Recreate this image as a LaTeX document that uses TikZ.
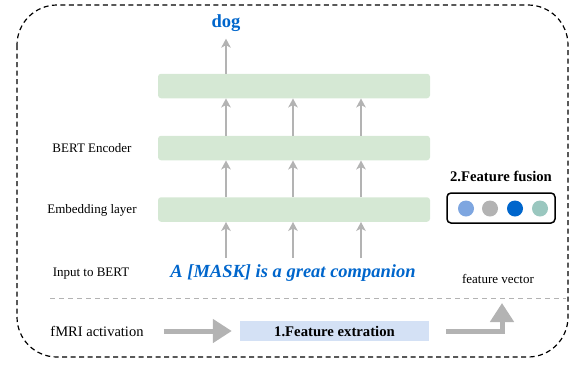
\documentclass[tikz,border=0pt]{standalone}
\usepackage{fontspec}
\setmainfont{Liberation Serif}
\usetikzlibrary{arrows.meta,positioning}
\definecolor{barGreen}{HTML}{D5E8D4}
\definecolor{boxBlue}{HTML}{D4E1F5}
\definecolor{textBlue}{HTML}{0066CC}
\definecolor{arrGray}{HTML}{B3B3B3}
\definecolor{dotA}{HTML}{7EA6E0}
\definecolor{dotB}{HTML}{B3B3B3}
\definecolor{dotC}{HTML}{0066CC}
\definecolor{dotD}{HTML}{9AC7BF}
\tikzset{>=Latex}
\tikzset{bar/.style={fill=barGreen, rounded corners=3pt, minimum width=272pt, minimum height=24.5pt, inner sep=0pt}}
\tikzset{lbl/.style={inner sep=0pt, font=\fontsize{13}{15}\selectfont}}
\tikzset{head/.style={inner sep=0pt, font=\fontsize{14.7}{17}\selectfont\bfseries}}
\tikzset{uparr/.style={draw=arrGray, line width=1.5pt, -{Stealth[length=9pt,width=9.5pt,inset=2.5pt]}}}
\tikzset{bigarr/.style={draw=arrGray, line width=5pt, line join=miter, -{Triangle[length=19pt,width=23pt]}}}
\def\ux{1pt}
\def\uy{-1pt}

\begin{document}
\begin{tikzpicture}[x=\ux,y=\uy]
  \useasboundingbox (0,0) rectangle (576,365);
  % outer frame
  \draw[line width=1.2pt, dash pattern=on 5pt off 3.5pt, rounded corners=40pt] (17,5) rectangle (568,357);

  % BERT stack
  \node[bar] (top) at (294,86) {};
  \node[bar] (enc) at (294,148) {};
  \node[bar] (emb) at (294,209.5) {};
  \node[lbl] (encl) at (92,148) {BERT Encoder};
  \node[lbl] (embl) at (92,210) {Embedding layer};
  \node[lbl] (inl) at (91,274) {Input to BERT};
  \node[inner sep=0pt, text=textBlue, font=\fontsize{18.5}{20}\selectfont\bfseries\itshape] (inp) at (293,273) {A [MASK] is a great companion};
  \node[inner sep=0pt, text=textBlue, font=\fontsize{18.5}{20}\selectfont\bfseries] (dog) at (226,23) {dog};

  \coordinate (i1) at (226,258);
  \coordinate (i2) at (293,258);
  \coordinate (i3) at (361,258);
  \foreach \c in {i1,i2,i3}{
    \draw[uparr] (\c) -- (emb.south -| \c);
    \draw[uparr] (emb.north -| \c) -- (enc.south -| \c);
    \draw[uparr] (enc.north -| \c) -- (top.south -| \c);
  }
  \draw[uparr, shorten >=7pt] (top.north -| i1) -- (dog.south);

  % feature fusion
  \node[head] (fusel) at (501,176) {2.Feature fusion};
  \node[draw, line width=1.5pt, rounded corners=4pt, minimum width=108pt, minimum height=30pt, inner sep=0pt] (fuse) at (501,208) {};
  \foreach \x/\col in {466/dotA,490/dotB,515/dotC,540/dotD}{
    \node[circle, fill=\col, minimum size=16pt, inner sep=0pt] (dot\x) at (\x,208.5) {};
  }
  \node[lbl] (fv) at (498,279) {feature vector};

  % separator
  \draw[draw=arrGray, line width=1pt, dash pattern=on 5pt off 4pt] (50,298) -- (566,298);

  % feature extraction
  \node[lbl, font=\fontsize{14.5}{17}\selectfont] (fmri) at (97,331) {fMRI activation};
  \node[head, fill=boxBlue, minimum width=189pt, minimum height=20pt] (fx) at (334.5,331) {1.Feature extration};
  \coordinate (vecin) at (502,303);
  \draw[bigarr, shorten <=20pt, shorten >=8pt] (fmri.east) -- (fx.west);
  \draw[bigarr] ([xshift=17pt]fx.east) -| (vecin);
\end{tikzpicture}
\end{document}
